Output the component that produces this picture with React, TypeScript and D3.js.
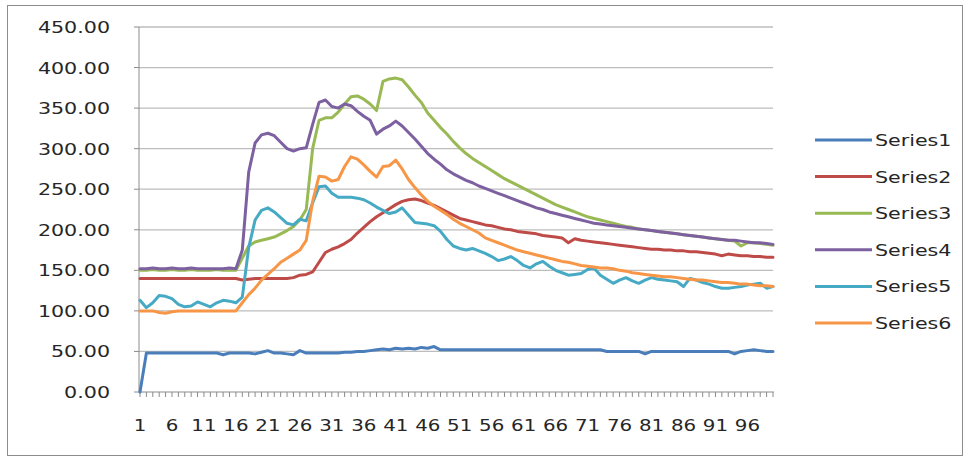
import React from "react";
import * as d3 from "d3";

const seriesNames = ["Series1", "Series2", "Series3", "Series4", "Series5", "Series6"];
const seriesColors = ["#4A7EBB", "#BE4B48", "#98B954", "#7D60A0", "#46AAC5", "#F79646"];
const yTicks = [0, 50, 100, 150, 200, 250, 300, 350, 400, 450];

const series1 = [
  0, 48, 48, 48, 48, 48, 48, 48, 48, 48, 48, 48, 48, 46, 48, 48, 48, 48, 47, 49,
  51, 48, 48, 47, 46, 51, 48, 48, 48, 48, 48, 48, 49, 49, 50, 50, 51, 52, 53, 52,
  54, 53, 54, 53, 55, 54, 56, 52, 52, 52, 52, 52, 52, 52, 52, 52, 52, 52, 52, 52,
  52, 52, 52, 52, 52, 52, 52, 52, 52, 52, 52, 52, 52, 50, 50, 50, 50, 50, 50, 47,
  50, 50, 50, 50, 50, 50, 50, 50, 50, 50, 50, 50, 50, 47, 50, 51, 52, 51, 50, 50,
];
const series2 = [
  140, 140, 140, 140, 140, 140, 140, 140, 140, 140, 140, 140, 140, 140, 140, 140, 138, 139, 140, 140,
  140, 140, 140, 140, 141, 144, 145, 148, 160, 172, 176, 179, 183, 188, 196, 203, 210, 216, 221, 226,
  231, 235, 237, 238, 236, 233, 230, 226, 222, 218, 214, 212, 210, 208, 206, 205, 203, 201, 200, 198,
  197, 196, 195, 193, 192, 191, 190, 184, 189, 187, 186, 185, 184, 183, 182, 181, 180, 179, 178, 177,
  176, 176, 175, 175, 174, 174, 173, 173, 172, 171, 170, 168, 170, 169, 168, 168, 167, 167, 166, 166,
];
const series3 = [
  150, 150, 151, 150, 150, 151, 150, 150, 151, 150, 150, 150, 151, 150, 150, 150, 165, 180, 185, 187,
  189, 191, 195, 199, 204, 212, 225, 300, 335, 338, 338, 345, 355, 364, 365, 361, 355, 347, 383, 386,
  387, 385, 376, 366, 357, 344, 335, 326, 318, 309, 301, 294, 288, 283, 278, 273, 268, 263, 259, 255,
  251, 247, 243, 239, 235, 231, 228, 225, 222, 219, 216, 214, 212, 210, 208, 206, 204, 203, 201, 200,
  199, 198, 197, 196, 195, 194, 193, 192, 191, 190, 189, 188, 187, 186, 180, 184, 184, 183, 182, 181,
];
const series4 = [
  152, 152, 153, 152, 152, 153, 152, 152, 153, 152, 152, 152, 152, 152, 153, 152, 175, 271, 307, 317,
  319, 316, 308, 300, 297, 300, 301, 330, 357, 360, 352, 350, 355, 353, 346, 340, 335, 318, 324, 328,
  334, 328, 320, 312, 303, 294, 287, 281, 274, 269, 265, 261, 258, 254, 251, 248, 245, 242, 239, 236,
  233, 230, 227, 225, 222, 220, 218, 216, 214, 212, 210, 208, 207, 206, 205, 204, 203, 202, 201, 200,
  199, 198, 197, 196, 195, 194, 193, 192, 191, 190, 189, 188, 187, 187, 186, 185, 184, 184, 183, 182,
];
const series5 = [
  113, 104, 110, 119, 118, 115, 108, 105, 106, 111, 108, 105, 110, 113, 112, 110, 117, 178, 212, 224,
  227, 222, 215, 208, 206, 213, 211, 233, 253, 254, 245, 240, 240, 240, 239, 237, 233, 228, 224, 220,
  222, 227, 218, 209, 208, 207, 205, 198, 188, 180, 177, 175, 177, 174, 171, 167, 162, 164, 167, 162,
  156, 153, 158, 161, 155, 150, 147, 144, 145, 146, 151, 153, 144, 139, 134, 138, 141, 137, 134, 138,
  141, 139, 138, 137, 136, 130, 140, 138, 135, 133, 130, 128, 128, 129, 130, 132, 133, 134, 128, 130,
];
const series6 = [
  100, 100, 100, 98, 97, 99, 100, 100, 100, 100, 100, 100, 100, 100, 100, 100, 110, 120, 128, 138,
  145, 152, 160, 165, 170, 175, 187, 235, 266, 265, 260, 262, 278, 290, 287, 280, 272, 265, 278, 279,
  286, 275, 262, 252, 243, 235, 229, 224, 219, 213, 208, 204, 200, 196, 190, 187, 184, 181, 178, 175,
  173, 171, 169, 167, 165, 163, 161, 160, 158, 156, 155, 154, 153, 153, 152, 150, 149, 147, 146, 145,
  144, 143, 142, 142, 141, 140, 139, 138, 138, 137, 136, 135, 135, 134, 133, 133, 132, 131, 131, 130,
];
const allSeries = [series1, series2, series3, series4, series5, series6];

const categories = series1.map((_, i) => i + 1);
const xLabels = categories.filter((c) => (c - 1) % 5 === 0);

const font = "'DejaVu Sans', Verdana, sans-serif";
const textColor = "#262626";
const stretch = 1.25;

export default function App() {
  const left = 140;
  const right = 773;
  const top = 27;
  const bottom = 392;

  const x = d3.scalePoint<number>().domain(categories).range([left, right]);
  const y = d3.scaleLinear().domain([0, 450]).range([bottom, top]);

  const line = d3
    .line<number>()
    .x((_, i) => x(categories[i]) as number)
    .y((d) => y(d));

  return (
    <svg
      width={969}
      height={458}
      style={{ position: "absolute", left: 0, top: 0, background: "#fff" }}
    >
      <rect x={7.5} y={5.5} width={955} height={450} fill="#fff" stroke="#8c8c8c" strokeWidth={1} />

      {/* gridlines */}
      {yTicks.slice(1).map((t) => (
        <line key={t} x1={left - 1} x2={right} y1={y(t)} y2={y(t)} stroke="#bdbdbd" strokeWidth={1.3} />
      ))}

      {/* y axis */}
      <line x1={left - 1} x2={left - 1} y1={top} y2={bottom} stroke="#8c8c8c" strokeWidth={1} />
      {yTicks.map((t) => (
        <g key={t}>
          <line x1={left - 6} x2={left - 1} y1={y(t)} y2={y(t)} stroke="#8c8c8c" />
          <text
            transform={`translate(110,${y(t) + 6}) scale(${stretch},1)`}
            textAnchor="end"
            fontFamily={font}
            fontSize={16.5}
            fill={textColor}
          >
            {t.toFixed(2)}
          </text>
        </g>
      ))}

      {/* x axis */}
      <line x1={left - 1} x2={right + 1} y1={bottom} y2={bottom} stroke="#8c8c8c" />
      {categories.map((c) => (
        <line key={c} x1={x(c)} x2={x(c)} y1={bottom} y2={bottom + 5} stroke="#8c8c8c" />
      ))}
      {xLabels.map((c) => (
        <text
          key={c}
          transform={`translate(${x(c)},431) scale(1.2,1)`}
          textAnchor="middle"
          fontFamily={font}
          fontSize={16.5}
          fill={textColor}
        >
          {c}
        </text>
      ))}

      {/* series */}
      {allSeries.map((s, k) => (
        <path
          key={k}
          d={line(s) || ""}
          fill="none"
          stroke={seriesColors[k]}
          strokeWidth={3}
          strokeLinejoin="round"
          strokeLinecap="round"
        />
      ))}

      {/* legend */}
      {seriesNames.map((name, k) => {
        const ly = 140 + k * 36.6;
        return (
          <g key={name}>
            <line x1={815} x2={872} y1={ly} y2={ly} stroke={seriesColors[k]} strokeWidth={3} />
            <text
              transform={`translate(875,${ly + 6}) scale(${stretch},1)`}
              fontFamily={font}
              fontSize={16.5}
              fill={textColor}
            >
              {name}
            </text>
          </g>
        );
      })}
    </svg>
  );
}
